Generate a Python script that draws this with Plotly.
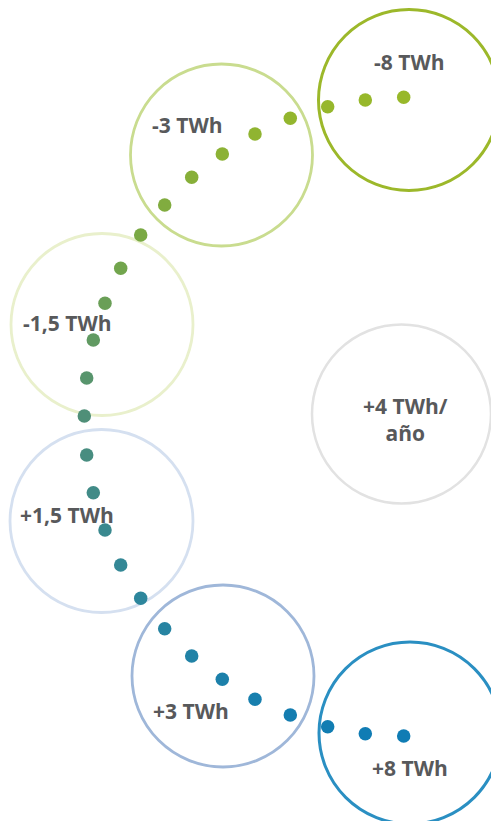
import plotly.graph_objects as go

# Dots along the path (pixel-like coordinate space, y downward)
dot_x = [403.7, 365.3, 327.7, 290.3, 255.0, 222.3, 191.7, 164.7, 140.7, 120.7, 105.0, 93.3, 86.7, 84.3,
         86.7, 93.3, 105.0, 120.7, 140.7, 164.7, 191.7, 222.3, 255.0, 290.3, 327.7, 365.3, 403.7]
dot_y = [97.3, 100.0, 106.7, 118.3, 134.0, 154.0, 177.3, 205.0, 235.0, 268.3, 303.3, 340.0, 378.0, 416.0,
         455.0, 492.7, 530.0, 565.0, 598.3, 628.7, 656.0, 679.3, 699.3, 715.0, 726.7, 733.7, 736.0]

# Circles
circle_labels = ["-8 TWh", "-3 TWh", "-1,5 TWh", "+4 TWh/<br>año", "+1,5 TWh", "+3 TWh", "+8 TWh"]
circle_x = [409, 221.5, 102, 401.5, 101.5, 223, 410]
circle_y = [100, 155, 324.5, 414, 521, 676, 733]
circle_r = [90.5, 91, 91, 89.5, 91.5, 91, 91]
circle_colors = ["#9cb82a", "#c9dc8f", "#e9f0cc", "#e2e2e2", "#d5e0f0", "#9fb7d9", "#2a8fc2"]
circle_widths = [3, 2.8, 2.8, 2.5, 2.8, 2.8, 3]

# Label positions
label_x = [409.5, 187, 66.5, 405, 67, 191, 410]
label_y = [62, 125, 323, 419, 515, 711, 768]

fig = go.Figure()

shapes = []
for cx, cy, r, c, w in zip(circle_x, circle_y, circle_r, circle_colors, circle_widths):
    shapes.append(dict(type="circle", xref="x", yref="y", x0=cx - r, x1=cx + r, y0=cy - r, y1=cy + r,
                       line=dict(color=c, width=w), fillcolor="rgba(0,0,0,0)", layer="below"))

fig.add_trace(go.Scatter(
    x=dot_x, y=dot_y, mode="markers",
    marker=dict(size=13.5, color=dot_y,
                colorscale=[[0, "#98b82a"], [0.23, "#78a846"], [0.5, "#4f8f78"],
                            [0.78, "#2e869c"], [1, "#0f7cb4"]],
                cmin=97.3, cmax=736, line=dict(width=0)),
    hoverinfo="skip", showlegend=False))

for lab, lx, ly in zip(circle_labels, label_x, label_y):
    fig.add_annotation(x=lx, y=ly, text="<b>" + lab + "</b>", showarrow=False,
                       xref="x", yref="y",
                       font=dict(family="Open Sans", size=21, color="#58595b"),
                       xanchor="center", yanchor="middle")

fig.update_layout(
    width=491, height=821,
    margin=dict(l=0, r=0, t=0, b=0),
    paper_bgcolor="white", plot_bgcolor="white",
    shapes=shapes,
    hovermode=False,
    xaxis=dict(range=[0, 491], visible=False, fixedrange=True),
    yaxis=dict(range=[821, 0], visible=False, fixedrange=True),
)

fig.write_html("out.html",
               config={"displayModeBar": False, "staticPlot": True},
               post_script="document.body.style.margin='0';document.body.style.overflow='hidden';")
